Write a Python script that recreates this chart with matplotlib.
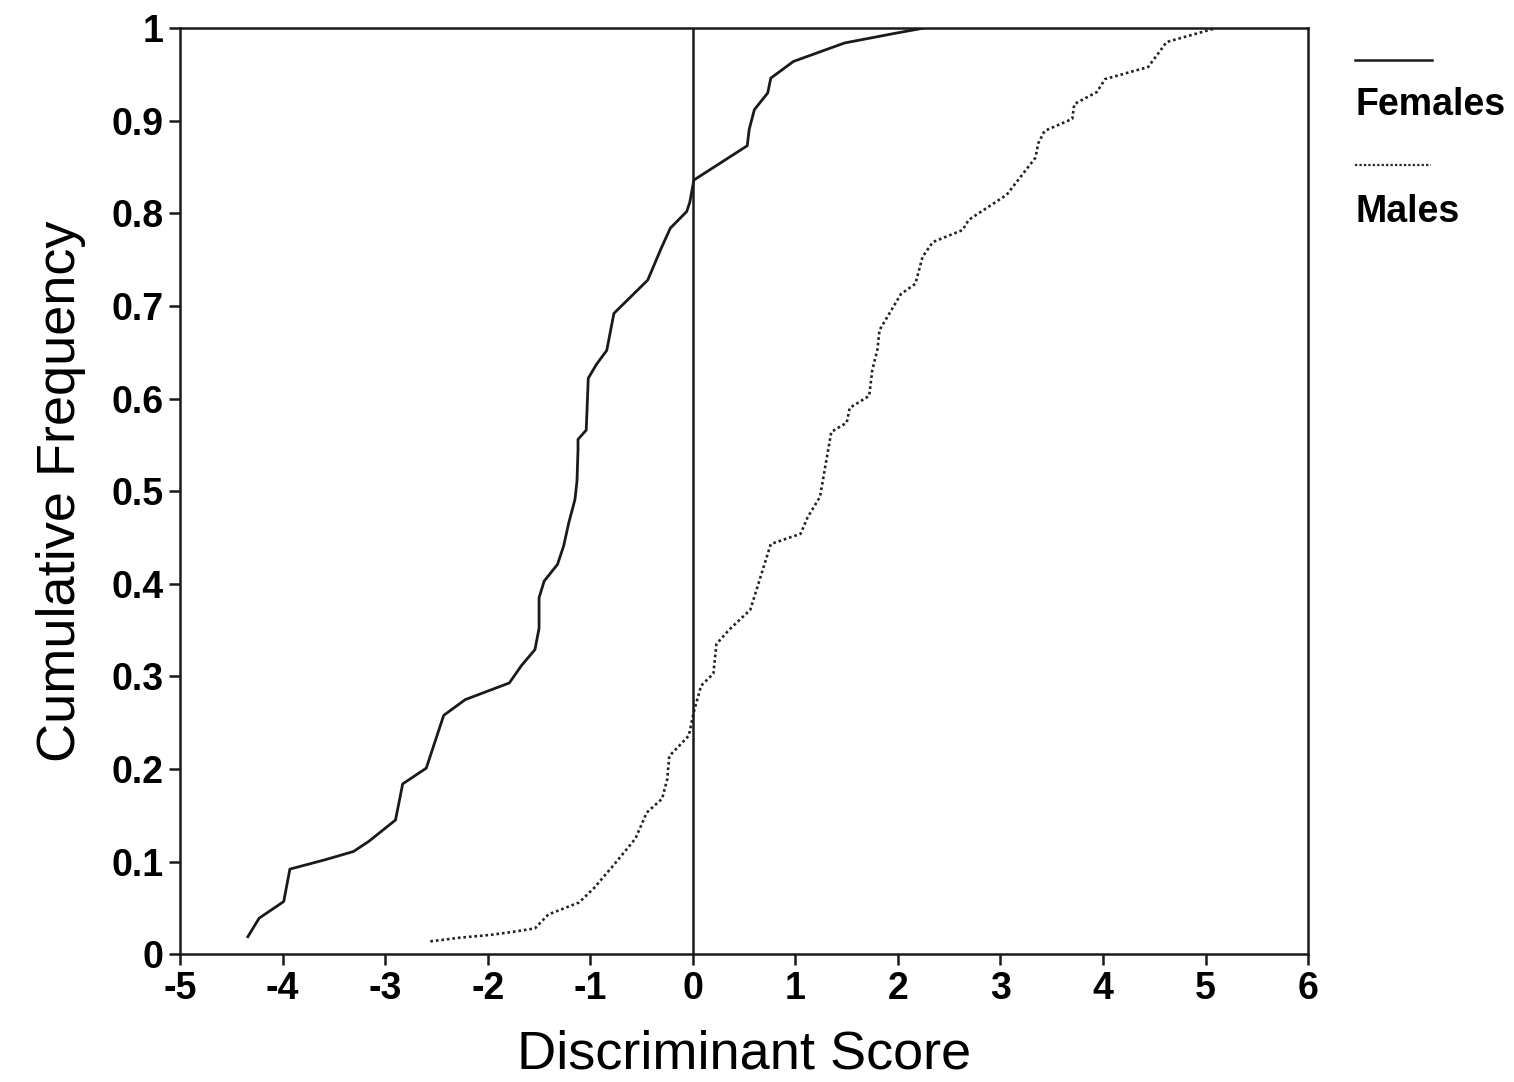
import matplotlib
matplotlib.use("Agg")
import matplotlib.pyplot as plt
from matplotlib.lines import Line2D

plt.rcParams['font.family'] = ['Liberation Sans', 'DejaVu Sans']

# Kumulative Verteilung der Diskriminanzwerte
female_x = [-4.34, -4.23, -3.99, -3.93, -3.59, -3.31, -3.16, -2.90, -2.83, -2.60,
            -2.43, -2.22, -1.79, -1.67, -1.54, -1.50, -1.50, -1.45, -1.32, -1.26,
            -1.21, -1.15, -1.13, -1.12, -1.12, -1.04, -1.02, -0.94, -0.84, -0.77,
            -0.44, -0.31, -0.22, -0.06, -0.03, 0.01, 0.53, 0.55, 0.60, 0.73,
            0.76, 0.98, 1.48, 2.00, 2.25]
female_y = [0.019, 0.039, 0.057, 0.092, 0.102, 0.111, 0.122, 0.145, 0.184, 0.201,
            0.258, 0.275, 0.293, 0.312, 0.329, 0.352, 0.385, 0.403, 0.421, 0.441,
            0.466, 0.491, 0.511, 0.545, 0.556, 0.566, 0.622, 0.637, 0.652, 0.692,
            0.728, 0.762, 0.784, 0.802, 0.812, 0.836, 0.873, 0.891, 0.912, 0.930,
            0.946, 0.964, 0.984, 0.995, 1.0]

male_x = [-2.56, -2.27, -1.97, -1.77, -1.54, -1.41, -1.11, -0.96, -0.76, -0.56,
          -0.45, -0.30, -0.25, -0.23, -0.04, 0.01, 0.08, 0.20, 0.23, 0.35,
          0.56, 0.76, 1.05, 1.12, 1.24, 1.35, 1.50, 1.53, 1.72, 1.75,
          1.80, 1.82, 2.03, 2.17, 2.24, 2.34, 2.63, 2.69, 3.06, 3.34,
          3.37, 3.43, 3.70, 3.72, 3.94, 4.02, 4.44, 4.62, 5.10]
male_y = [0.014, 0.018, 0.021, 0.024, 0.028, 0.043, 0.056, 0.072, 0.098, 0.125,
          0.153, 0.168, 0.189, 0.214, 0.236, 0.262, 0.290, 0.303, 0.335, 0.350,
          0.372, 0.443, 0.454, 0.472, 0.494, 0.564, 0.574, 0.590, 0.603, 0.631,
          0.653, 0.674, 0.713, 0.724, 0.753, 0.769, 0.782, 0.793, 0.820, 0.860,
          0.876, 0.889, 0.902, 0.918, 0.931, 0.945, 0.958, 0.985, 1.0]

x_ticks = [-5, -4, -3, -2, -1, 0, 1, 2, 3, 4, 5, 6]
y_ticks = [0, 0.1, 0.2, 0.3, 0.4, 0.5, 0.6, 0.7, 0.8, 0.9, 1]
y_labels = ['0', '0.1', '0.2', '0.3', '0.4', '0.5', '0.6', '0.7', '0.8', '0.9', '1']

fig = plt.figure(figsize=(15.14, 10.82), dpi=100)
ax = fig.add_axes([0.119, 0.118, 0.745, 0.856])

ax.plot(female_x, female_y, color='#1a1a1a', lw=2.0)
ax.plot(male_x, male_y, color='#222222', lw=1.9, linestyle=(0, (1, 1.1)))
ax.axvline(0, color='#1a1a1a', lw=1.8)

ax.set_xlim(-5, 6)
ax.set_ylim(0, 1)
ax.set_xticks(x_ticks)
ax.set_xticklabels([str(t) for t in x_ticks], fontweight='bold')
ax.set_yticks(y_ticks)
ax.set_yticklabels(y_labels, fontweight='bold')
ax.tick_params(direction='out', length=8, width=1.8, labelsize=27, color='#1a1a1a', pad=4)
for s in ax.spines.values():
    s.set_linewidth(1.8)
    s.set_color('#1a1a1a')

ax.set_xlabel('Discriminant Score', fontsize=39, labelpad=16)
ax.set_ylabel('Cumulative Frequency', fontsize=39, labelpad=18)

# Legende: Linie über dem Text
fig.add_artist(Line2D([0.895, 0.946], [0.9445, 0.9445], color='#1a1a1a', lw=1.8,
                      transform=fig.transFigure))
fig.text(0.895, 0.903, 'Females', fontsize=27, fontweight='bold', va='center', ha='left')
fig.add_artist(Line2D([0.895, 0.945], [0.8475, 0.8475], color='#222222', lw=1.6,
                      linestyle=(0, (1, 1)), transform=fig.transFigure))
fig.text(0.895, 0.804, 'Males', fontsize=27, fontweight='bold', va='center', ha='left')

fig.savefig('out.png', dpi=100, facecolor='white')
